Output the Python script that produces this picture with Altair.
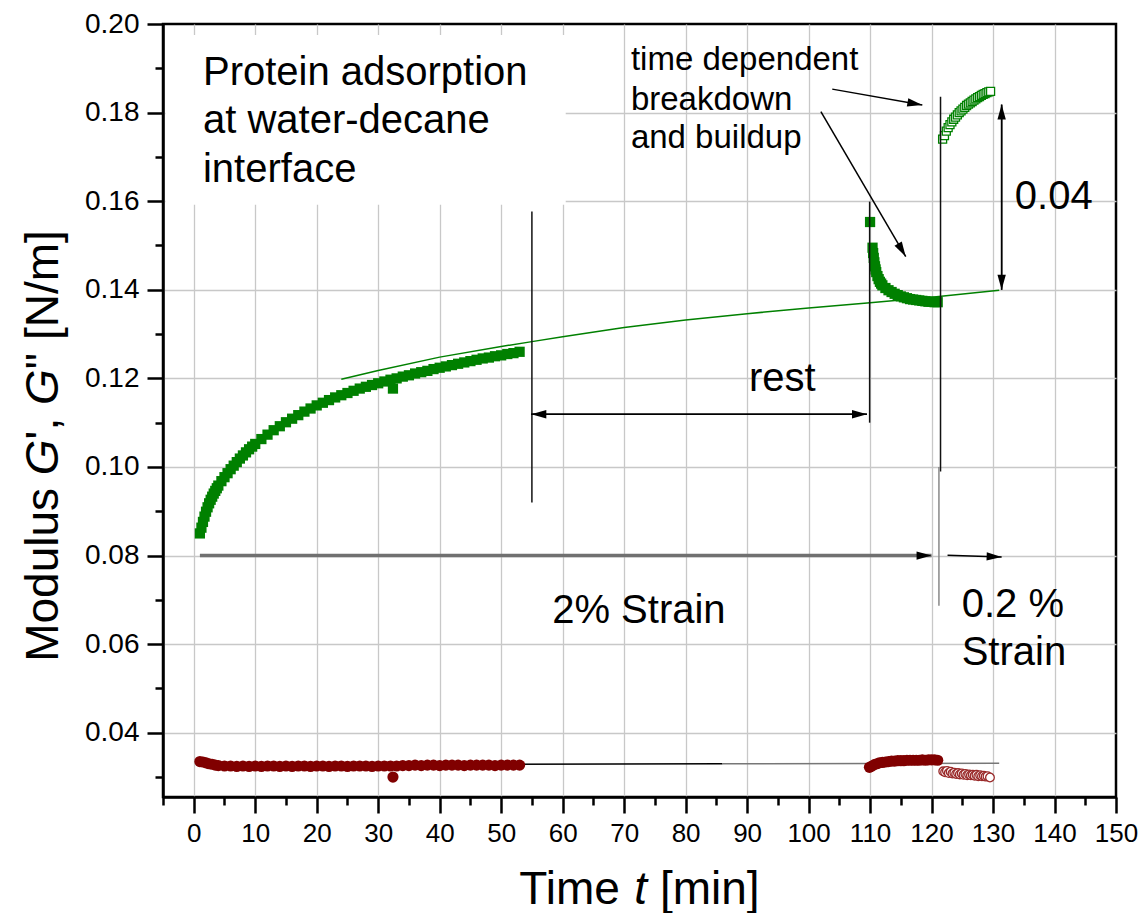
import math
import altair as alt
import pandas as pd

FONT = "Liberation Sans"
GREEN = "#008000"
MAROON = "#800000"

# ---------------- values ----------------
# G' (filled green squares), 2 % strain, adsorption period  (t [min], G' [N/m])
gp_ads = [
    (1.0, 0.0850), (1.25, 0.0863), (1.5, 0.0876), (1.75, 0.0888), (2.0, 0.0899),
    (2.25, 0.0909), (2.5, 0.0918), (2.75, 0.0926), (3.0, 0.0933), (3.25, 0.0940),
    (3.5, 0.0946), (3.75, 0.0952), (4.0, 0.0958), (4.5, 0.0968), (5.0, 0.0977),
    (5.5, 0.0986), (6.0, 0.0995), (6.5, 0.1003), (7.0, 0.1011), (7.5, 0.1019),
    (8.0, 0.1026), (8.5, 0.1033), (9.0, 0.1040), (9.5, 0.1046), (10, 0.1052),
    (11, 0.1063), (12, 0.1073), (13, 0.1083), (14, 0.1092), (15, 0.1101),
    (16, 0.1109), (17, 0.1117), (18, 0.1125), (19, 0.1132), (20, 0.1139),
    (21, 0.1145), (22, 0.1151), (23, 0.1157), (24, 0.1162), (25, 0.1167),
    (26, 0.1172), (27, 0.1177), (28, 0.1181), (29, 0.1185), (30, 0.1189),
    (31, 0.1193), (32, 0.1197), (32.4, 0.1177), (33, 0.1200), (34, 0.1204),
    (35, 0.1207), (36, 0.1211), (37, 0.1214), (38, 0.1217), (39, 0.1221),
    (40, 0.1224), (41, 0.1227), (42, 0.1230), (43, 0.1233), (44, 0.1236),
    (45, 0.1239), (46, 0.1242), (47, 0.1245), (48, 0.1247), (49, 0.1250),
    (50, 0.1252), (51, 0.1255), (52, 0.1257), (53, 0.1260),
]
# G' after rest, 2 % strain: breakdown
gp_break = [
    (110.0, 0.1553), (110.4, 0.1495), (110.5, 0.1483), (110.6, 0.1472), (110.7, 0.1462),
    (110.8, 0.1453), (110.9, 0.1446), (111.0, 0.1440), (111.2, 0.1431), (111.4, 0.1424),
    (111.6, 0.1418), (111.8, 0.1414), (112.0, 0.1410), (112.5, 0.1404), (113.0, 0.1399),
    (113.5, 0.1395), (114.0, 0.1391), (114.5, 0.1388), (115.0, 0.1385), (115.5, 0.1383),
    (116.0, 0.1381), (116.5, 0.1379), (117.0, 0.1378), (117.5, 0.1377), (118.0, 0.1376),
    (118.5, 0.1375), (119.0, 0.1374), (119.5, 0.1373), (120.0, 0.1373), (120.5, 0.1372),
    (121.0, 0.1372),
]
# G' at 0.2 % strain: buildup (open squares)
gp_low = [
    (121.8, 0.1740), (122.1, 0.1748), (122.4, 0.1758), (122.7, 0.1766), (123.0, 0.1773),
    (123.3, 0.1779), (123.6, 0.1785), (123.9, 0.1790), (124.2, 0.1795), (124.5, 0.1800),
    (124.8, 0.1804), (125.1, 0.1808), (125.4, 0.1812), (125.7, 0.1816), (126.0, 0.1819),
    (126.3, 0.1822), (126.6, 0.1825), (126.9, 0.1828), (127.2, 0.1831), (127.5, 0.1834),
    (127.8, 0.1836), (128.1, 0.1839), (128.4, 0.1841), (128.7, 0.1843), (129.0, 0.1845),
    (129.3, 0.1847), (129.6, 0.1848),
]
# G'' (filled dark red circles), adsorption period
gpp_ads = [
    (1.0, 0.0335), (1.5, 0.0334), (2.0, 0.0332), (2.5, 0.0330), (3.0, 0.0329),
    (3.5, 0.0327), (4.0, 0.0326), (5, 0.0325), (6, 0.0325), (7, 0.0324), (8, 0.0325),
    (9, 0.0324), (10, 0.0325), (11, 0.0324), (12, 0.0325), (13, 0.0325), (14, 0.0324),
    (15, 0.0325), (16, 0.0324), (17, 0.0325), (18, 0.0325), (19, 0.0324), (20, 0.0325),
    (21, 0.0325), (22, 0.0324), (23, 0.0325), (24, 0.0325), (25, 0.0324), (26, 0.0325),
    (27, 0.0325), (28, 0.0325), (29, 0.0324), (30, 0.0325), (31, 0.0325), (32, 0.0325),
    (32.4, 0.0300), (33, 0.0325), (34, 0.0326), (35, 0.0326), (36, 0.0327), (37, 0.0326),
    (38, 0.0327), (39, 0.0327), (40, 0.0326), (41, 0.0327), (42, 0.0327), (43, 0.0327),
    (44, 0.0326), (45, 0.0327), (46, 0.0327), (47, 0.0327), (48, 0.0327), (49, 0.0326),
    (50, 0.0327), (51, 0.0327), (52, 0.0327), (53, 0.0327),
]
gpp_break = [
    (109.9, 0.0322), (110.3, 0.0325), (110.7, 0.0328), (111.1, 0.0330), (111.5, 0.0332),
    (112.0, 0.0333), (112.5, 0.0334), (113.0, 0.0335), (113.5, 0.0336), (114.0, 0.0336),
    (114.5, 0.0337), (115.0, 0.0337), (115.5, 0.0337), (116.0, 0.0338), (116.5, 0.0338),
    (117.0, 0.0338), (117.5, 0.0338), (118.0, 0.0338), (118.5, 0.0339), (119.0, 0.0338),
    (119.5, 0.0339), (120.0, 0.0339), (120.5, 0.0339), (121.0, 0.0338),
]
gpp_low = [
    (121.9, 0.0313), (122.2, 0.0311), (122.5, 0.0314), (122.8, 0.0309), (123.1, 0.0312),
    (123.4, 0.0308), (123.7, 0.0310), (124.0, 0.0307), (124.3, 0.0309), (124.6, 0.0306),
    (124.9, 0.0308), (125.2, 0.0305), (125.5, 0.0307), (125.8, 0.0304), (126.1, 0.0306),
    (126.4, 0.0304), (126.7, 0.0305), (127.0, 0.0303), (127.3, 0.0305), (127.6, 0.0302),
    (127.9, 0.0304), (128.2, 0.0302), (128.5, 0.0303), (128.8, 0.0301), (129.1, 0.0302),
    (129.5, 0.0299),
]
# fitted curves
gp_fit = [
    (24, 0.1198), (30, 0.1218), (40, 0.1248), (50, 0.1272), (55, 0.1283), (60, 0.1294),
    (70, 0.1315), (80, 0.1332), (90, 0.1346), (100, 0.1359), (110, 0.1371),
    (120, 0.1383), (131, 0.1399),
]
gpp_fit_black = [(47, 0.0329), (86, 0.0330)]
gpp_fit_grey = [(86, 0.0330), (131, 0.0331)]

# axis tick values
x_ticks = list(range(0, 151, 10))
x_minor = list(range(-5, 150, 10))
x_grid = list(range(0, 141, 10))
y_ticks = [0.04, 0.06, 0.08, 0.10, 0.12, 0.14, 0.16, 0.18, 0.20]
y_minor = [0.03, 0.05, 0.07, 0.09, 0.11, 0.13, 0.15, 0.17, 0.19]
y_grid = [0.04, 0.06, 0.08, 0.10, 0.12, 0.14, 0.16, 0.18]

# annotation geometry (tail t, tail v, tip t, tip v)
arrows_thin = [
    (109.5, 0.1119, 54.9, 0.1119),
    (54.9, 0.1119, 109.5, 0.1119),
    (131.4, 0.1400, 131.4, 0.1818),
    (131.4, 0.1818, 131.4, 0.1400),
    (122.6, 0.0801, 131.4, 0.0797),
    (103.85, 0.1853, 118.5, 0.1817),
    (102.0, 0.1802, 115.8, 0.1475),
]
arrow_strain = [(1.0, 0.0800, 120.0, 0.0800)]
bars_black = [
    (55.0, 0.1577, 55.0, 0.0920),
    (109.93, 0.1599, 109.93, 0.1100),
    (121.46, 0.1836, 121.46, 0.0990),
]
bars_grey = [(121.2, 0.1000, 121.2, 0.0687)]

labels_big = [
    ("Protein adsorption", 1.5, 0.1863),
    ("at water-decane", 1.5, 0.1755),
    ("interface", 1.5, 0.1644),
    ("rest", 90.3, 0.1171),
    ("2% Strain", 58.3, 0.0647),
    ("0.2 %", 124.9, 0.0661),
    ("Strain", 124.9, 0.0552),
    ("0.04", 133.55, 0.1583),
]
labels_small = [
    ("time dependent", 71.1, 0.1896),
    ("breakdown", 71.1, 0.1806),
    ("and buildup", 71.1, 0.1719),
]
text_box = [(-4.6, 0.1592, 60.5, 0.1975)]

# ---------------- layout ----------------
X_DOM = [-5, 150]
Y_DOM = [0.0255, 0.20]
W, H = 953, 773
XS = W / (X_DOM[1] - X_DOM[0])
YS = H / (Y_DOM[1] - Y_DOM[0])

xs = alt.Scale(domain=X_DOM, nice=False, zero=False)
ys = alt.Scale(domain=Y_DOM, nice=False, zero=False)


def pairs_df(p):
    return pd.DataFrame(p, columns=["t", "v"])


def seg_df(s):
    return pd.DataFrame(s, columns=["t0", "v0", "t1", "v1"])


def enc_xy(ch):
    return ch.encode(x=alt.X("t:Q", scale=xs, axis=None), y=alt.Y("v:Q", scale=ys, axis=None))


def enc_seg(ch):
    return ch.encode(
        x=alt.X("t0:Q", scale=xs, axis=None), x2="t1:Q",
        y=alt.Y("v0:Q", scale=ys, axis=None), y2="v1:Q",
    )


axis_df = pd.DataFrame({"t": [0.0], "v": [0.1]})
common = dict(domainColor="black", tickColor="black", labelColor="black", labelFont=FONT)

grid_layer = alt.Chart(axis_df).mark_point(opacity=0).encode(
    x=alt.X("t:Q", scale=xs, axis=alt.Axis(orient="bottom", values=x_grid, grid=True, ticks=False,
                                           labels=False, domain=False, title=None, zindex=0,
                                           gridColor="#c8c8c8", gridWidth=1.3)),
    y=alt.Y("v:Q", scale=ys, axis=alt.Axis(orient="left", values=y_grid, grid=True, ticks=False,
                                           labels=False, domain=False, title=None, zindex=0,
                                           gridColor="#c8c8c8", gridWidth=1.3)),
)
minor_layer = alt.Chart(axis_df).mark_point(opacity=0).encode(
    x=alt.X("t:Q", scale=xs, axis=alt.Axis(orient="bottom", values=x_minor, grid=False, labels=False,
                                           domain=False, title=None, tickSize=8, tickWidth=2.5,
                                           zindex=1, tickColor="black")),
    y=alt.Y("v:Q", scale=ys, axis=alt.Axis(orient="left", values=y_minor, grid=False, labels=False,
                                           domain=False, title=None, tickSize=8, tickWidth=2.5,
                                           zindex=1, tickColor="black")),
)
major_layer = alt.Chart(axis_df).mark_point(opacity=0).encode(
    x=alt.X("t:Q", scale=xs, axis=alt.Axis(orient="bottom", values=x_ticks, grid=False, title=None,
                                           tickSize=16, tickWidth=2.5, domainWidth=2.5,
                                           labelFontSize=26, labelPadding=7, labelFlush=False,
                                           labelOverlap=False, zindex=1, **common)),
    y=alt.Y("v:Q", scale=ys, axis=alt.Axis(orient="left", values=y_ticks, format=".2f", grid=False,
                                           title=None, tickSize=16, tickWidth=2.5, domainWidth=2.5,
                                           labelFontSize=28, labelPadding=8, labelFlush=False,
                                           labelOverlap=False, zindex=1, **common)),
)

box = enc_seg(alt.Chart(seg_df(text_box)).mark_rect(color="white", opacity=1))

fit_line = enc_xy(alt.Chart(pairs_df(gp_fit)).mark_line(color=GREEN, strokeWidth=1.5))
gpp_line_b = enc_xy(alt.Chart(pairs_df(gpp_fit_black)).mark_line(color="black", strokeWidth=1.5))
gpp_line_g = enc_xy(alt.Chart(pairs_df(gpp_fit_grey)).mark_line(color="#777777", strokeWidth=1.5))

sq = dict(shape="square", filled=True, color=GREEN, size=105, opacity=1)
gp1 = enc_xy(alt.Chart(pairs_df(gp_ads)).mark_point(**sq))
gp2 = enc_xy(alt.Chart(pairs_df(gp_break)).mark_point(**sq))
gp3 = enc_xy(alt.Chart(pairs_df(gp_low)).mark_point(shape="square", filled=True, fill="white",
                                                     stroke=GREEN, strokeWidth=1.3, size=64,
                                                     opacity=1))
ci = dict(shape="circle", filled=True, color=MAROON, size=125, opacity=1)
gpp1 = enc_xy(alt.Chart(pairs_df(gpp_ads)).mark_point(**ci))
gpp2 = enc_xy(alt.Chart(pairs_df(gpp_break)).mark_point(**ci))
gpp3 = enc_xy(alt.Chart(pairs_df(gpp_low)).mark_point(shape="circle", filled=True, fill="white",
                                                       stroke="#9a2a2a", strokeWidth=1.3, size=75,
                                                       opacity=1))

bars_b = enc_seg(alt.Chart(seg_df(bars_black)).mark_rule(color="#111111", strokeWidth=1.5))
bars_g = enc_seg(alt.Chart(seg_df(bars_grey)).mark_rule(color="#888888", strokeWidth=1.5))
arr_thin = enc_seg(alt.Chart(seg_df(arrows_thin)).mark_rule(color="black", strokeWidth=1.5))
arr_thick = enc_seg(alt.Chart(seg_df(arrow_strain)).mark_rule(color="#707070", strokeWidth=3.5))


def bearing(t0, v0, t1, v1):
    dx = (t1 - t0) * XS
    dy = -(v1 - v0) * YS
    return math.degrees(math.atan2(dx, -dy)) % 360


heads = pd.DataFrame(
    [(a[2], a[3], bearing(*a)) for a in arrows_thin + arrow_strain], columns=["t", "v", "ang"]
)
head_layer = alt.Chart(heads).mark_point(
    shape="M0,0 L-0.28,1 L0.28,1 Z", filled=True, color="black", size=900, opacity=1
).encode(
    x=alt.X("t:Q", scale=xs, axis=None),
    y=alt.Y("v:Q", scale=ys, axis=None),
    angle=alt.Angle("ang:Q", scale=None),
)


def text_layer(rows, fs):
    d = pd.DataFrame(rows, columns=["s", "t", "v"])
    return alt.Chart(d).mark_text(align="left", baseline="alphabetic", font=FONT, fontSize=fs,
                                  color="black").encode(
        x=alt.X("t:Q", scale=xs, axis=None), y=alt.Y("v:Q", scale=ys, axis=None), text="s:N")


txt_big = text_layer(labels_big, 40)
txt_small = text_layer(labels_small, 33)

# ---- axis titles with italic symbols (Arial / Liberation Sans advance widths) ----
ADV = {"M": 0.833, "o": 0.556, "d": 0.556, "u": 0.556, "l": 0.222, "s": 0.5, " ": 0.278,
       "G": 0.778, "'": 0.191, ",": 0.278, '"': 0.355, "[": 0.278, "N": 0.722, "/": 0.278,
       "m": 0.833, "]": 0.278, "T": 0.611, "i": 0.222, "e": 0.556, "t": 0.278, "n": 0.556}
TFS = 46


def wid(s):
    return sum(ADV[c] for c in s) * TFS


def title_piece(s, italic, x, y, angle=0):
    kw = dict(align="left", baseline="alphabetic", font=FONT, fontSize=TFS, color="black")
    if italic:
        kw["fontStyle"] = "italic"
    if angle:
        kw["angle"] = angle
    return alt.Chart(pd.DataFrame({"s": [s]})).mark_text(**kw).encode(
        text="s:N", x=alt.value(x), y=alt.value(y))


x_title_parts = [("Time ", False), ("t", True), (" [min]", False)]
total = sum(wid(s) for s, _ in x_title_parts)
cx = W / 2 - total / 2
x_title = []
for s, it in x_title_parts:
    st = s.strip()
    lead = wid(s) - wid(s.lstrip())
    x_title.append(title_piece(st, it, cx + lead, H + 107))
    cx += wid(s)

y_title_parts = [("Modulus ", False), ("G", True), ("', ", False), ("G", True), ('" [N/m]', False)]
total = sum(wid(s) for s, _ in y_title_parts)
cy = 422 + total / 2
y_title = []
for s, it in y_title_parts:
    pos = cy
    for chunk in s.split(" "):
        if chunk:
            y_title.append(title_piece(chunk, it, -105, pos, angle=270))
        pos -= wid(chunk) + wid(" ")
    cy -= wid(s)

layers = [grid_layer, minor_layer, major_layer, box, fit_line, gpp_line_b, gpp_line_g,
          gp1, gp2, gp3, gpp1, gpp2, gpp3, bars_b, bars_g, arr_thick, arr_thin, head_layer,
          txt_big, txt_small] + x_title + y_title

chart = (
    alt.layer(*layers)
    .resolve_axis(x="independent", y="independent")
    .properties(width=W, height=H, autosize=alt.AutoSizeParams(type="none"),
                padding={"left": 155, "top": 16, "right": 22, "bottom": 116})
    .configure_view(stroke="black", strokeWidth=2.5)
    .configure_axis(labelFont=FONT, labelColor="black")
)

chart.save("out.html", embed_options={"renderer": "svg", "actions": False})
